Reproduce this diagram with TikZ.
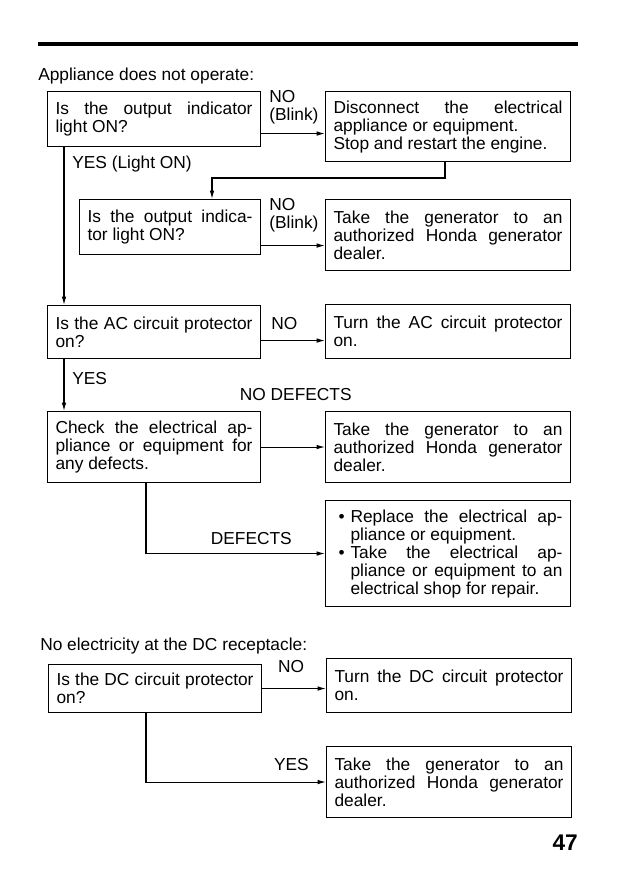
\documentclass[tikz,border=0pt]{standalone}
\usepackage{fontspec}
\setmainfont{Liberation Sans}
\usetikzlibrary{arrows.meta}

\begin{document}
\begin{tikzpicture}[
    x=0.75pt, y=-0.75pt,
    >={Latex[length=2.2mm, width=1.2mm]},
    line/.style  = {line width=0.8pt},
    txt/.style   = {font=\fontsize{13}{13.5}\selectfont},
    box/.style   = {draw, line width=0.8pt, anchor=north west, txt,
                    inner xsep=6pt, inner ysep=0pt, align=justify},
    qbox/.style  = {box, text width=147.75pt},
    abox/.style  = {box, text width=171.75pt},
    lbl/.style   = {txt, inner sep=0pt, align=left}
]
\useasboundingbox (0,0) rectangle (620,873);

% Page rule and heading
\draw[line width=3pt] (38,44) -- (578,44);
\node[lbl, anchor=base west] (head1) at (38,81) {Appliance does not operate:};

% Output indicator checks
\node[qbox, minimum height=41.25pt] (q1) at (47,91) {Is the output indicator\linebreak light ON?};
\node[abox, minimum height=52.5pt]  (a1) at (325,91) {Disconnect the electrical\linebreak appliance or equipment.\\Stop and restart the engine.};
\node[box, text width=123.75pt, minimum height=41.25pt] (q2) at (79,199) {Is the output indica-\linebreak tor light ON?};
\node[abox, minimum height=53.25pt] (a2) at (325,199) {Take the generator to an\linebreak authorized Honda generator\linebreak dealer.};

% AC circuit protector
\node[qbox, minimum height=39.75pt] (q3) at (47,305) {Is the AC circuit protector\linebreak on?};
\node[abox, minimum height=40.5pt]  (a3) at (325,304) {Turn the AC circuit protector\linebreak on.};

% Appliance check
\node[qbox, minimum height=53.25pt] (q4) at (47,411) {Check the electrical ap-\linebreak pliance or equipment for\linebreak any defects.};
\node[abox, minimum height=53.25pt] (a4) at (325,411) {Take the generator to an\linebreak authorized Honda generator\linebreak dealer.};
\node[abox, minimum height=79.5pt]  (a5) at (325,500) {%
    \hspace*{3.75pt}\makebox[9pt][l]{\textbullet}Replace the electrical ap-\linebreak
    \hspace*{12.75pt}pliance or equipment.\\
    \hspace*{3.75pt}\makebox[9pt][l]{\textbullet}Take the electrical ap-\linebreak
    \hspace*{12.75pt}pliance or equipment to an\linebreak
    \hspace*{12.75pt}electrical shop for repair.};

% DC receptacle
\node[lbl, anchor=base west] (head2) at (40,650) {No electricity at the DC receptacle:};
\node[qbox, minimum height=36pt]    (q5) at (48,664) {Is the DC circuit protector\linebreak on?};
\node[abox, minimum height=40.5pt]  (a6) at (326,658) {Turn the DC circuit protector\linebreak on.};
\node[abox, minimum height=53.25pt] (a7) at (326,746) {Take the generator to an\linebreak authorized Honda generator\linebreak dealer.};

% NO branches
\coordinate (n1) at ([yshift=-10.9pt]q1.east);
\coordinate (n2) at ([yshift=-13.9pt]q2.east);
\coordinate (n3) at ([yshift=-6.4pt]q3.east);
\draw[->, line] (n1) -- (n1 -| a1.west);
\draw[->, line] (n2) -- (n2 -| a2.west);
\draw[->, line] (n3) -- (n3 -| a3.west);
\draw[->, line] (q4.east) -- (q4.east -| a4.west);
\draw[->, line] (q5.east) -- (q5.east -| a6.west);

% YES branches
\coordinate (v1) at ([xshift=12.75pt]q1.south west);
\coordinate (v2) at ([xshift=90pt]a1.south west);
\coordinate (v3) at ([xshift=99.75pt]q2.north west);
\coordinate (v4) at ([xshift=12.75pt]q3.south west);
\coordinate (v5) at ([xshift=74.25pt]q4.south west);
\coordinate (v6) at ([xshift=73.5pt]q5.south west);
\draw[->, line] (v1) -- (v1 |- q3.north);
\draw[->, line] (v2) |- ([yshift=15.75pt]v3) -- (v3);
\draw[->, line] (v4) -- (v4 |- q4.north);
\draw[->, line] (v5) |- (a5.west);
\draw[->, line] (v6) |- (a7.west);

% Branch labels
\node[lbl, anchor=north west] (no1) at ([xshift=6pt, yshift=1pt]q1.north east) {NO\\(Blink)};
\node[lbl, anchor=north west] (no2) at ([xshift=6pt, yshift=1pt]q2.north east) {NO\\(Blink)};
\node[lbl, anchor=west]       (no3) at ([xshift=7.5pt, yshift=6.4pt]q3.east) {NO};
\node[lbl, anchor=north]      (no4) at ([xshift=21.75pt, yshift=3pt]q5.north east) {NO};
\node[lbl, anchor=north west] (yes1) at ([xshift=18.75pt, yshift=-6.75pt]q1.south west) {YES (Light ON)};
\node[lbl, anchor=north west] (yes2) at ([xshift=18.75pt, yshift=-9.5pt]q3.south west) {YES};
\node[lbl, anchor=north east] (yes3) at ([xshift=-12.75pt, yshift=-9pt]a7.north west) {YES};
\node[lbl, anchor=south]      (nodef) at ([xshift=26pt, yshift=7.5pt]q4.north east) {NO DEFECTS};
\node[lbl, anchor=south east] (def) at ([xshift=-24.75pt, yshift=6.75pt]a5.west) {DEFECTS};

% Page number
\node[font=\fontsize{17}{17}\selectfont\bfseries, anchor=base east, inner sep=0pt] (pg) at (578,850) {47};

\end{tikzpicture}
\end{document}
